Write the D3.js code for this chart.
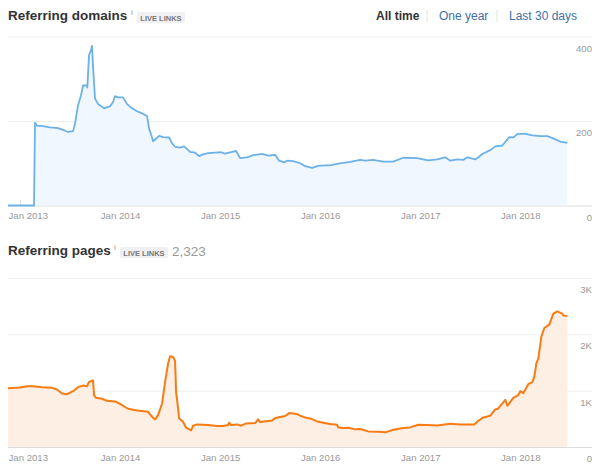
<!DOCTYPE html>
<html>
<head>
<meta charset="utf-8">
<script src="https://cdnjs.cloudflare.com/ajax/libs/d3/7.8.5/d3.min.js"></script>
<style>
  html, body { margin: 0; padding: 0; background: #fff; }
  svg { display: block; font-family: "Liberation Sans", Arial, sans-serif; }
  .axis path { display: none; }
  .axis text { font-size: 9.6px; fill: #999; }
</style>
</head>
<body>
<svg id="root" width="605" height="467"></svg>
<script>
// dates are decimal years
const yearTicks = [2013, 2014, 2015, 2016, 2017, 2018]

const domainYears = [2012.88,2013.14,2013.15,2013.17,2013.23,2013.30,2013.38,2013.45,2013.48,2013.53,2013.55,2013.58,2013.61,2013.63,2013.67,2013.673,2013.68,2013.69,2013.71,2013.72,2013.73,2013.75,2013.78,2013.84,2013.90,2013.93,2013.95,2013.98,2014.03,2014.07,2014.12,2014.17,2014.22,2014.27,2014.29,2014.32,2014.33,2014.36,2014.39,2014.43,2014.49,2014.52,2014.55,2014.60,2014.64,2014.70,2014.75,2014.79,2014.83,2014.88,2014.95,2015.01,2015.05,2015.12,2015.16,2015.20,2015.27,2015.33,2015.42,2015.48,2015.55,2015.59,2015.64,2015.67,2015.73,2015.80,2015.85,2015.92,2015.98,2016.05,2016.10,2016.18,2016.30,2016.40,2016.45,2016.53,2016.63,2016.73,2016.83,2016.97,2017.08,2017.17,2017.25,2017.30,2017.37,2017.43,2017.47,2017.55,2017.63,2017.70,2017.75,2017.82,2017.89,2017.93,2017.97,2018.04,2018.12,2018.20,2018.27,2018.33,2018.40,2018.47]
const domainValues = [0,0,196,189,188,185,183,177,174,176,194,237,261,284,284,279,312,356,368,378,328,253,240,230,235,245,259,256,256,240,230,223,218,212,182,161,152,158,165,162,161,147,139,137,140,127,125,117,121,124,125,126,123,127,129,112,114,119,122,118,120,106,102,106,105,100,93,89,94,95,95,99,103,108,106,108,104,104,113,112,107,109,114,106,109,108,114,109,123,131,140,142,162,161,169,170,166,164,164,159,151,148]
const domainTicks = [0, 200, 400]

const pageYears = [2012.88,2013.00,2013.07,2013.13,2013.22,2013.32,2013.37,2013.42,2013.47,2013.53,2013.58,2013.63,2013.67,2013.69,2013.73,2013.74,2013.76,2013.82,2013.87,2013.95,2014.00,2014.08,2014.17,2014.28,2014.32,2014.35,2014.38,2014.42,2014.45,2014.48,2014.50,2014.53,2014.55,2014.56,2014.58,2014.59,2014.63,2014.66,2014.71,2014.73,2014.77,2014.83,2014.88,2014.97,2015.03,2015.08,2015.09,2015.11,2015.17,2015.21,2015.26,2015.35,2015.38,2015.40,2015.52,2015.55,2015.65,2015.69,2015.77,2015.80,2015.87,2015.90,2015.97,2016.03,2016.10,2016.17,2016.18,2016.23,2016.28,2016.35,2016.40,2016.48,2016.58,2016.65,2016.73,2016.83,2016.90,2016.98,2017.07,2017.17,2017.30,2017.40,2017.54,2017.58,2017.63,2017.70,2017.75,2017.78,2017.85,2017.87,2017.89,2017.93,2017.98,2018.00,2018.03,2018.08,2018.12,2018.14,2018.16,2018.18,2018.21,2018.24,2018.29,2018.33,2018.37,2018.42,2018.43,2018.47]
const pageValues = [1044,1056,1080,1080,1062,1050,1021,950,938,991,1062,1092,1080,1156,1180,920,873,856,820,808,767,679,649,625,537,490,566,773,1156,1481,1611,1599,1522,979,684,507,448,342,295,378,401,395,389,372,372,389,431,389,401,378,419,425,490,442,472,513,549,602,584,555,513,507,454,431,407,395,348,336,342,313,319,277,271,260,307,336,348,395,389,383,413,401,401,466,525,555,667,684,838,732,773,873,920,991,956,1115,1150,1245,1481,1569,1953,2112,2171,2366,2407,2366,2336,2323]
const pageTicks = [0, 1000, 2000, 3000]

const svg = d3.select('#root')

const xScale = d3.scaleLinear().domain([2013, 2018]).range([20, 520.3])
const plotLeft = 8
const plotRight = 592

function drawChart(opts) {
  const yScale = d3.scaleLinear().domain(opts.yDomain).range(opts.yRange)
  const g = svg.append('g')

  const yAxis = d3.axisRight(yScale)
    .tickValues(opts.ticks)
    .tickFormat(opts.format)
    .tickSize(plotLeft - plotRight)

  const yAxisGroup = g.append('g')
    .attr('class', 'axis')
    .attr('transform', `translate(${plotRight},0)`)
    .call(yAxis)
  yAxisGroup.selectAll('line').attr('stroke', d => d === 0 ? '#ddd' : '#eee')
  yAxisGroup.selectAll('text')
    .attr('x', 0)
    .attr('dy', 14.5)
    .attr('text-anchor', 'end')

  const xAxisGroup = g.append('g')
    .attr('class', 'axis')
    .attr('transform', `translate(0,${yScale(0)})`)
    .call(d3.axisBottom(xScale)
      .tickValues(yearTicks)
      .tickFormat(d => 'Jan ' + d)
      .tickSizeInner(-5)
      .tickPadding(7))
  xAxisGroup.selectAll('line').attr('stroke', '#ddd')

  //first label is pushed right so it stays inside the plot
  xAxisGroup.selectAll('text')
    .filter(d => d === yearTicks[0])
    .attr('text-anchor', 'start')
    .attr('x', plotLeft - xScale(yearTicks[0]))

  const points = d3.zip(opts.years, opts.values)

  const area = d3.area()
    .x(d => xScale(d[0]))
    .y0(yScale(0))
    .y1(d => yScale(d[1]))
  const line = d3.line()
    .x(d => xScale(d[0]))
    .y(d => yScale(d[1]))

  g.append('path')
    .attr('d', area(points))
    .attr('fill', opts.fill)
  g.append('path')
    .attr('d', line(points))
    .attr('fill', 'none')
    .attr('stroke', opts.stroke)
    .attr('stroke-width', opts.strokeWidth)
    .attr('stroke-linejoin', 'round')
}

function drawHeader(title, y, iconX, badgeX) {
  svg.append('text')
    .attr('x', 8).attr('y', y)
    .attr('font-size', 13.5).attr('font-weight', 'bold').attr('fill', '#333')
    .text(title)
  svg.append('text')
    .attr('x', iconX).attr('y', y - 5)
    .attr('font-size', 8).attr('fill', '#999')
    .text('i')
  svg.append('rect')
    .attr('x', badgeX).attr('y', y - 8)
    .attr('width', 48).attr('height', 11).attr('rx', 2)
    .attr('fill', '#f0f0f3')
  svg.append('text')
    .attr('x', badgeX + 24).attr('y', y + 1)
    .attr('text-anchor', 'middle')
    .attr('font-size', 7.5).attr('font-weight', 'bold').attr('fill', '#777')
    .text('LIVE LINKS')
}

drawChart({
  years: domainYears, values: domainValues, ticks: domainTicks,
  yDomain: [0, 400], yRange: [205.5, 36.5],
  format: d => d,
  fill: '#f0f7fe', stroke: '#6cb1e8', strokeWidth: 1.8
})
drawChart({
  years: pageYears, values: pageValues, ticks: pageTicks,
  yDomain: [0, 3000], yRange: [447, 278],
  format: d => d === 0 ? '0' : (d / 1000) + 'K',
  fill: '#fdefe4', stroke: '#f97b12', strokeWidth: 2
})

drawHeader('Referring domains', 20, 131, 137)
drawHeader('Referring pages', 255, 114, 120)

svg.append('text')
  .attr('x', 172).attr('y', 256)
  .attr('font-size', 13.5).attr('fill', '#999')
  .text('2,323')

//period switch, top right
const periods = [
  { label: 'All time', x: 376, active: true },
  { label: 'One year', x: 439, active: false },
  { label: 'Last 30 days', x: 509, active: false }
]
svg.selectAll('text.period')
  .data(periods)
  .enter()
  .append('text')
  .attr('class', 'period')
  .attr('x', d => d.x)
  .attr('y', 20)
  .attr('font-size', 12)
  .attr('font-weight', d => d.active ? 'bold' : 'normal')
  .attr('fill', d => d.active ? '#333' : '#3f6fa8')
  .text(d => d.label)

svg.selectAll('line.sep')
  .data([427, 497])
  .enter()
  .append('line')
  .attr('class', 'sep')
  .attr('x1', d => d).attr('x2', d => d)
  .attr('y1', 10).attr('y2', 22)
  .attr('stroke', '#e3e3e3')
</script>
</body>
</html>
